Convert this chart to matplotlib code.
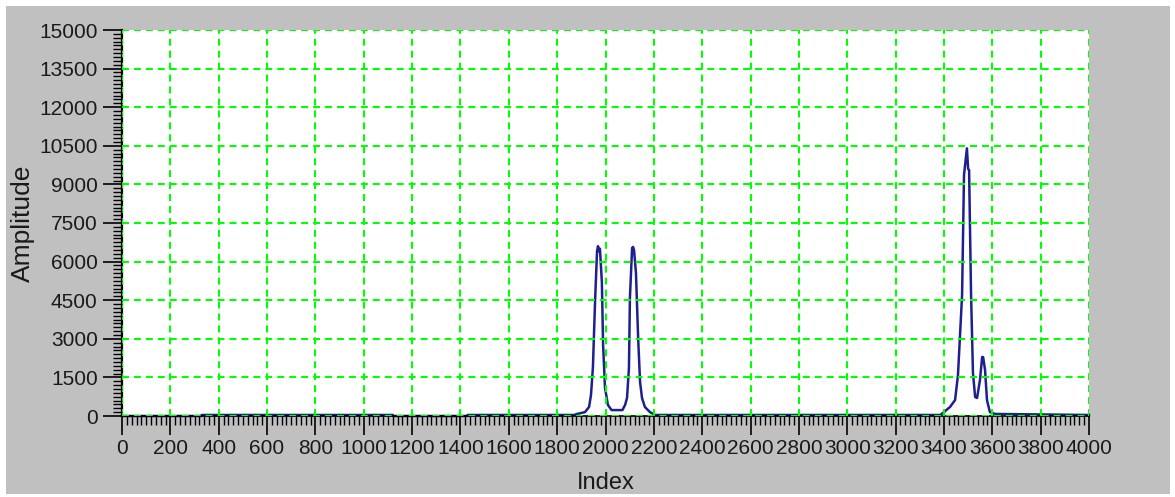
import matplotlib
matplotlib.use("Agg")
import matplotlib.pyplot as plt
from matplotlib.patches import Rectangle
from matplotlib.ticker import MultipleLocator

plt.rcParams['font.family'] = ['Liberation Sans', 'DejaVu Sans']
plt.rcParams['lines.scale_dashes'] = False

# Spectrum samples (index, amplitude)
index = [0, 329, 330, 1120, 1121, 1429, 1430, 1870,
         1882, 1915, 1932, 1940, 1948, 1957, 1965, 1969, 1973, 1977, 1985, 1990,
         1998, 2010, 2025, 2070, 2081, 2089, 2097, 2101, 2110, 2114, 2118, 2126,
         2135, 2143, 2151, 2163, 2184, 2205, 3385,
         3396, 3425, 3446, 3458, 3475, 3483, 3495, 3500, 3504, 3512, 3520, 3529,
         3537, 3549, 3558, 3562, 3570, 3578, 3590, 3611, 4000]
amplitude = [0, 0, 40, 40, 0, 0, 40, 40,
             80, 150, 350, 820, 1900, 4500, 6400, 6600, 6400, 6500, 5200, 2760,
             1090, 430, 230, 230, 430, 700, 1870, 4590, 6530, 6570, 6450, 5560,
             3030, 1320, 700, 350, 150, 40, 40,
             120, 350, 620, 1590, 4700, 9370, 10400, 9600, 9560, 4780, 1670, 740,
             700, 1400, 2290, 2290, 1790, 620, 150, 80, 40]

x_ticks = list(range(0, 4001, 200))
x_labels = [str(v) for v in x_ticks]
y_ticks = list(range(0, 15001, 1500))
y_labels = [str(v) for v in y_ticks]

W, H = 1175, 497
fig = plt.figure(figsize=(W / 100, H / 100), dpi=100, facecolor='white')

# grey panel behind the plot
fig.patches.append(Rectangle((6 / W, 3 / H), (1170 - 6) / W, (494 - 6) / H,
                             transform=fig.transFigure, facecolor='#c0c0c0',
                             edgecolor='none', zorder=-5))

ax = fig.add_axes([122 / W, (H - 416) / H, (1089 - 122) / W, (416 - 30) / H])
ax.set_zorder(1)
ax.set_facecolor('white')

ax.plot(index, amplitude, color='#1f1f8f', lw=1.8, zorder=2, clip_on=False)

ax.set_xlim(0, 4000)
ax.set_ylim(0, 15000)

ax.set_xticks(x_ticks)
ax.set_xticklabels(x_labels)
ax.set_yticks(y_ticks)
ax.set_yticklabels(y_labels)
ax.xaxis.set_minor_locator(MultipleLocator(20))
ax.yaxis.set_minor_locator(MultipleLocator(150))

ax.set_axisbelow(False)
ax.grid(True, which='major', color='#00ff00', lw=1.5,
        linestyle=(0, (5.0, 3.6)))

for side in ('top', 'right'):
    ax.spines[side].set_visible(False)
ax.spines['left'].set_linewidth(1.6)
ax.spines['bottom'].set_linewidth(1.2)
ax.spines['left'].set_color('black')
ax.spines['bottom'].set_color('black')

ax.tick_params(axis='both', which='major', length=13.5, width=1.2,
               colors='black', labelcolor='#1a1a1a', labelsize=15, direction='out')
ax.tick_params(axis='both', which='minor', length=6.5, width=1.0,
               colors='black', direction='out')
ax.tick_params(axis='x', which='major', pad=3)
ax.tick_params(axis='y', which='major', pad=4)

ax.set_xlabel('Index', fontsize=17, color='#1a1a1a', labelpad=10)
ax.set_ylabel('Amplitude', fontsize=19, color='#1a1a1a', labelpad=3)

fig.savefig('out.png', dpi=100, facecolor='white')
